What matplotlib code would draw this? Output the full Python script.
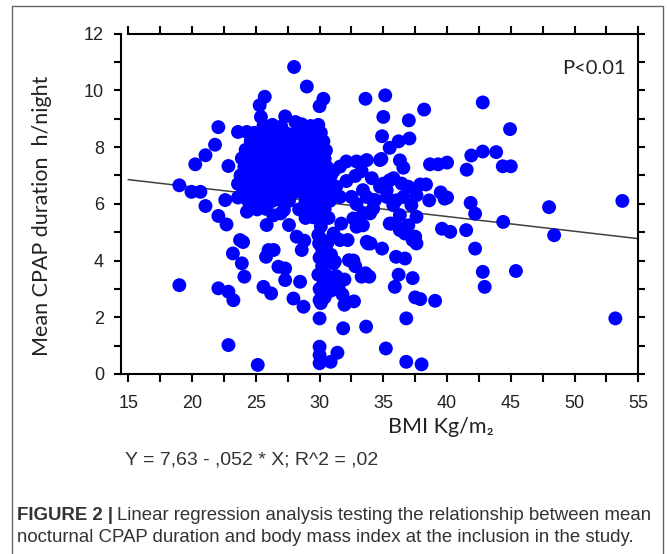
import matplotlib
matplotlib.use('Agg')
import matplotlib.pyplot as plt
from matplotlib.lines import Line2D
from matplotlib.ticker import MultipleLocator

W, H = 667, 554

# points, (BMI, mean CPAP hours)
left_pts = [(19.0, 6.65), (19.95, 6.42), (20.65, 6.42), (21.05, 5.92), (20.25, 7.39), (21.05, 7.71),
            (21.8, 8.08), (22.06, 8.7), (22.85, 7.33), (23.6, 8.53), (24.3, 8.53), (22.6, 6.13),
            (23.6, 6.22), (24.3, 5.72), (22.06, 5.57), (22.7, 5.27), (23.76, 4.72), (24.0, 4.65),
            (23.2, 4.25), (23.9, 3.9), (24.1, 3.43), (19.0, 3.13), (22.06, 3.02), (22.85, 2.9),
            (23.24, 2.6), (22.85, 1.02), (25.15, 0.32)]

low_mid_pts = [(25.6, 3.07), (26.2, 2.84), (26.0, 4.37), (26.4, 4.37), (25.8, 4.13), (26.77, 3.78),
               (27.3, 3.72), (27.3, 3.31), (28.47, 3.25), (27.95, 2.66), (28.74, 2.37), (28.6, 4.37),
               (28.2, 4.84), (28.8, 4.7), (25.85, 5.25), (26.37, 5.59), (27.6, 5.25), (26.95, 5.66),
               (30.0, 1.96), (30.0, 0.96), (30.0, 0.67), (30.0, 0.38), (30.87, 0.43), (31.4, 0.75),
               (31.85, 1.61), (33.65, 1.67), (30.0, 2.6), (30.1, 2.94), (30.9, 2.94), (31.2, 3.33),
               (31.95, 3.33), (31.95, 2.44), (32.7, 2.56), (31.2, 3.96), (30.9, 4.2), (32.2, 4.72),
               (33.8, 4.6), (29.96, 4.6), (35.2, 0.9), (31.5, 3.0), (31.8, 2.8), (30.6, 3.22),
               (32.3, 4.01), (32.8, 3.8), (33.3, 3.43), (33.6, 3.55), (31.3, 3.45)]

x30_pts = [(30.0, 5.5), (30.1, 5.2), (29.9, 4.9), (30.2, 4.4), (30.0, 4.1), (30.2, 3.8), (29.9, 3.5),
           (30.3, 3.2), (30.0, 3.0), (30.4, 2.7), (30.1, 2.5), (30.5, 3.5), (30.6, 4.6), (30.4, 5.8),
           (30.2, 4.72), (30.8, 4.1), (31.1, 3.9), (32.65, 4.0)]

core_pts = [(25.6, 8.75), (26.3, 8.78), (27.0, 8.72), (28.6, 8.8), (29.3, 8.74), (29.9, 8.78),
            (24.9, 8.5), (25.5, 8.48), (26.2, 8.52), (26.8, 8.5), (27.5, 8.46), (28.2, 8.5), (28.8, 8.52),
            (29.5, 8.48), (30.1, 8.5),
            (24.6, 8.2), (25.2, 8.22), (25.8, 8.18), (26.5, 8.2), (27.1, 8.24), (27.8, 8.2), (28.4, 8.18),
            (29.1, 8.2), (29.7, 8.22), (30.3, 8.2),
            (24.2, 7.9), (24.9, 7.92), (25.5, 7.88), (26.1, 7.9), (26.8, 7.92), (27.4, 7.9), (28.1, 7.88),
            (28.7, 7.9), (29.3, 7.92), (30.0, 7.9), (30.5, 7.88),
            (23.9, 7.6), (24.6, 7.62), (25.2, 7.58), (25.9, 7.6), (26.5, 7.62), (27.2, 7.6), (27.8, 7.58),
            (28.5, 7.6), (29.1, 7.62), (29.8, 7.6), (30.4, 7.58),
            (24.1, 7.3), (24.8, 7.32), (25.4, 7.28), (26.0, 7.3), (26.7, 7.32), (27.3, 7.3), (28.0, 7.28),
            (28.6, 7.3), (29.3, 7.32), (29.9, 7.3), (30.6, 7.28),
            (23.8, 7.0), (24.5, 7.02), (25.1, 6.98), (25.8, 7.0), (26.4, 7.02), (27.1, 7.0), (27.7, 6.98),
            (28.4, 7.0), (29.0, 7.02), (29.6, 7.0), (30.3, 6.98), (30.9, 7.0),
            (23.6, 6.7), (24.2, 6.72), (24.9, 6.68), (25.5, 6.7), (26.2, 6.72), (26.8, 6.7), (27.5, 6.68),
            (28.1, 6.7), (28.8, 6.72), (29.4, 6.7), (30.1, 6.68), (30.7, 6.7),
            (24.0, 6.4), (24.7, 6.42), (25.3, 6.38), (26.0, 6.4), (26.6, 6.42), (27.3, 6.4), (27.9, 6.38),
            (28.6, 6.4), (29.2, 6.42), (29.9, 6.4), (30.5, 6.38),
            (24.4, 6.1), (25.0, 6.12), (25.7, 6.08), (26.3, 6.1), (27.0, 6.12), (27.6, 6.1), (28.9, 6.08),
            (29.6, 6.1), (30.2, 6.12), (30.8, 6.1),
            (25.1, 5.8), (25.8, 5.82), (27.2, 5.78), (28.4, 5.8), (29.1, 5.82), (29.7, 5.8), (30.3, 5.78),
            (28.9, 5.5), (29.5, 5.52), (30.1, 5.48), (30.7, 5.5)]

top_pts = [(28.0, 10.82), (29.0, 10.13), (30.3, 9.7), (30.0, 9.44), (33.6, 9.7), (35.15, 9.82),
           (25.7, 9.77), (25.3, 9.47), (25.4, 9.06), (27.3, 9.08), (28.1, 8.88)]

mid_pts = [(31.6, 7.31), (32.1, 7.49), (32.9, 7.49), (33.7, 7.54), (31.1, 7.15), (33.3, 7.15),
           (32.8, 6.98), (32.1, 6.8), (31.3, 6.6), (34.1, 6.9), (33.4, 6.48), (32.5, 6.24), (31.6, 6.24),
           (30.8, 6.48), (32.9, 5.99), (33.7, 6.24), (35.27, 6.24), (34.2, 5.83), (33.4, 5.66),
           (32.65, 5.48), (33.96, 5.66), (32.9, 5.19), (33.4, 5.24), (35.65, 5.3), (36.3, 5.07),
           (36.96, 5.24), (37.5, 4.84), (37.6, 4.6), (31.7, 5.3), (31.1, 4.95), (31.6, 4.72),
           (33.7, 4.66), (35.78, 5.95), (37.2, 5.95), (36.3, 5.6), (37.6, 5.54), (35.5, 6.83),
           (35.27, 6.48), (34.74, 6.6), (34.35, 6.13), (36.57, 6.24), (36.96, 6.6), (34.74, 7.54),
           (34.9, 4.42), (34.0, 4.6), (33.9, 3.43), (37.3, 4.72), (36.7, 4.95), (36.3, 5.12), (35.5, 5.3)]

right_pts = [(35.0, 9.06), (37.0, 8.94), (38.2, 9.32), (42.8, 9.57), (44.94, 8.63), (34.9, 8.38),
             (36.2, 8.2), (37.05, 8.3), (35.5, 7.97), (34.85, 7.58), (36.3, 7.53), (36.57, 7.27),
             (38.66, 7.39), (39.3, 7.39), (40.0, 7.45), (41.54, 7.2), (41.9, 7.7), (42.8, 7.84),
             (43.85, 7.82), (44.37, 7.32), (45.0, 7.32), (35.0, 6.71), (36.44, 6.71), (37.9, 6.68),
             (38.35, 6.68), (39.5, 6.4), (40.0, 6.22), (41.85, 6.03), (48.0, 5.88), (53.75, 6.1),
             (38.6, 6.12), (37.6, 6.3), (35.8, 6.9), (34.2, 6.12), (36.0, 6.12), (39.8, 6.18),
             (48.4, 4.89), (44.4, 5.36), (42.2, 5.65), (39.6, 5.12), (40.25, 5.01), (41.5, 5.07),
             (42.2, 4.42), (42.8, 3.6), (42.95, 3.07), (45.4, 3.63), (53.2, 1.96), (39.06, 2.58),
             (37.9, 2.64), (37.5, 2.7), (36.8, 1.96), (36.8, 0.43), (38.0, 0.34), (35.9, 3.07),
             (36.2, 3.5), (37.3, 3.38), (36.0, 4.13), (36.7, 4.07)]

# regression Y = 7,63 - ,052 * X drawn between x = 15 and 55
line_x = [15, 55]
line_y = [6.85, 4.77]

x_ticks = [15, 20, 25, 30, 35, 40, 45, 50, 55]
y_ticks = [0, 2, 4, 6, 8, 10, 12]

all_pts = left_pts + low_mid_pts + x30_pts + core_pts + top_pts + mid_pts + right_pts
bmi = [p[0] for p in all_pts]
hours = [p[1] for p in all_pts]

fig = plt.figure(figsize=(W / 100, H / 100), dpi=100)
fig.patch.set_facecolor('white')

def fx(px):
    return px / W

def fy(py):
    return 1 - py / H

ax = fig.add_axes([fx(120.7), fy(374), fx(638.3) - fx(120.7), fy(33.5) - fy(374)])
ax.plot(line_x, line_y, color='#404040', lw=1.1, zorder=2)
ax.scatter(bmi, hours, s=100, color='#0000ff', edgecolors='none', zorder=3)

ax.set_xlim(14.4, 55)
ax.set_ylim(0, 12)
ax.set_xticks(x_ticks)
ax.set_yticks(y_ticks)
ax.xaxis.set_minor_locator(MultipleLocator(2.5))
ax.yaxis.set_minor_locator(MultipleLocator(1))
for s in ax.spines.values():
    s.set_linewidth(1.5)
ax.spines['top'].set_bounds(15, 55)
ax.tick_params(axis='both', which='both', direction='out', width=1.5, color='black')
ax.tick_params(axis='x', which='both', top=True, length=6)
ax.tick_params(axis='y', which='both', right=True, length=5)
ax.tick_params(axis='x', which='major', labelsize=13, pad=9)
ax.tick_params(axis='y', which='major', labelsize=13, pad=7)
for lab in ax.get_xticklabels() + ax.get_yticklabels():
    lab.set_family(['Liberation Sans Narrow', 'Liberation Sans'])
    lab.set_color('#222222')

fig.text(fx(42), fy(216), 'Mean CPAP duration  h/night', rotation=90, ha='center', va='center',
         fontsize=15.5, family=['Lato', 'DejaVu Sans'], color='#222222')
fig.text(fx(441), fy(427), 'BMI Kg/m\u2082', ha='center', va='center',
         fontsize=15.5, family=['Lato', 'DejaVu Sans'], color='#222222')
fig.text(fx(562), fy(68), 'P<0.01', ha='left', va='center',
         fontsize=14.5, family=['Lato', 'DejaVu Sans'], color='#222222')

fig.text(fx(125), fy(460), 'Y = 7,63 - ,052 * X; R^2 = ,02', ha='left', va='center',
         fontsize=14, family='Liberation Sans', color='#333333')

# frame round the figure, open at the bottom
fig.add_artist(Line2D([fx(12), fx(12), fx(663), fx(663)], [-0.01, fy(6), fy(6), -0.01],
                      transform=fig.transFigure, color='#666666', lw=1.0))

renderer = fig.canvas.get_renderer()
bold = fig.text(fx(17), fy(516), 'FIGURE 2 |', ha='left', va='center', fontsize=13.4,
                fontweight='bold', family='Liberation Sans', color='#333333')
bb = bold.get_window_extent(renderer)
fig.text(bb.x1 / W + fx(4), fy(516), 'Linear regression analysis testing the relationship between mean',
         ha='left', va='center', fontsize=13.4, family='Liberation Sans', color='#333333')
fig.text(fx(17), fy(538), 'nocturnal CPAP duration and body mass index at the inclusion in the study.',
         ha='left', va='center', fontsize=13.4, family='Liberation Sans', color='#333333')

fig.savefig('out.png', dpi=100)
